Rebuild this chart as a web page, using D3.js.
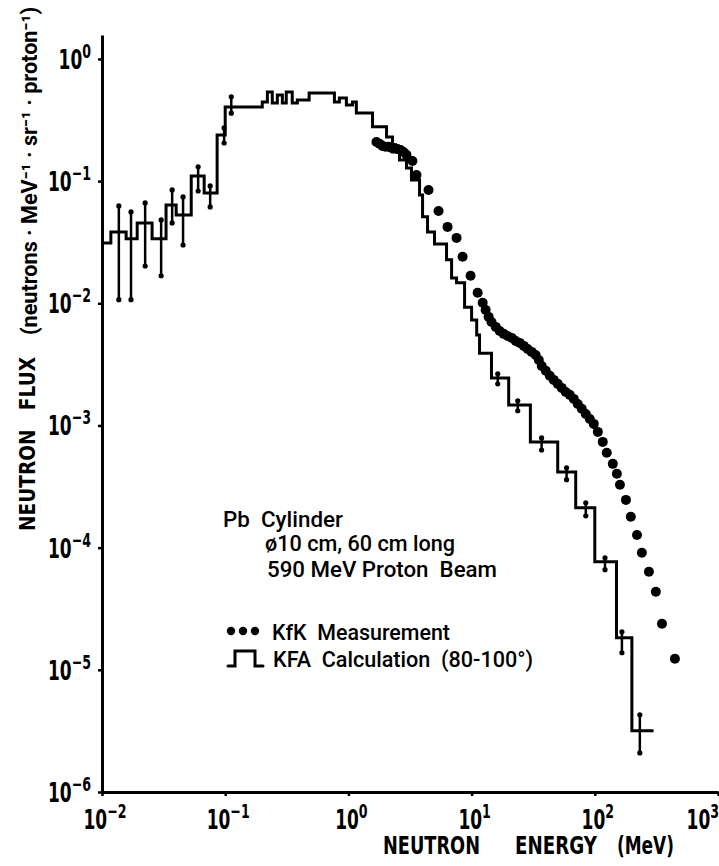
<!DOCTYPE html>
<html>
<head>
<meta charset="utf-8">
<script src="https://cdn.jsdelivr.net/npm/d3@7"></script>
<style>
	body { margin: 0; background: #fff; }
	svg { display: block; }
	.lbl { font-family: "Liberation Sans Narrow", "DejaVu Sans Condensed", "Arial Narrow", "Liberation Sans", sans-serif; font-weight: bold; fill: #000; }
	.note { font-family: Roboto, "Open Sans", "Noto Sans", sans-serif; font-weight: 500; fill: #000; }
</style>
</head>
<body>
<svg id="chart" width="719" height="866"></svg>
<script>

// KFA calculation: left edge of each bin (MeV) and flux in that bin
const calcEdges = [0.01, 0.0118, 0.0157, 0.0193, 0.0255, 0.0331, 0.040, 0.053, 0.0675, 0.086,
	0.10, 0.20, 0.22, 0.241, 0.265, 0.291, 0.313, 0.35, 0.385, 0.48,
	0.77, 0.845, 0.963, 1.08, 1.16, 1.57, 2.04, 2.28, 2.6, 2.96,
	3.25, 3.78, 4.0, 4.39, 5.0, 6.26, 6.88, 7.55, 8.77, 10.0,
	11.0, 11.6, 14.5, 20, 30, 50, 70, 100, 150, 200]
const calcLastEdge = 300
const calcFlux = [0.0312, 0.0384, 0.0337, 0.0455, 0.0337, 0.0639, 0.0529, 0.110, 0.080, 0.239,
	0.405, 0.445, 0.537, 0.436, 0.507, 0.436, 0.537, 0.436, 0.462, 0.527,
	0.445, 0.480, 0.420, 0.445, 0.361, 0.278, 0.230, 0.173, 0.149, 0.128,
	0.102, 0.077, 0.051, 0.0384, 0.0306, 0.0227, 0.0161, 0.0147, 0.0093, 0.0073,
	0.0055, 0.0039, 0.00245, 0.00147, 0.000734, 0.000417, 0.000212, 7.65e-5, 1.83e-5, 3.17e-6]

// error bars on the calculation
const errE = [0.0137, 0.0172, 0.0224, 0.0302, 0.0371, 0.0455, 0.0603, 0.0755, 0.098, 0.112,
	16.3, 23.7, 37, 59, 84.5, 121, 166, 232]
const errLo = [0.0107, 0.0107, 0.0202, 0.0168, 0.0455, 0.030, 0.083, 0.0615, 0.205, 0.36,
	0.00219, 0.00132, 0.00063, 0.00036, 0.000182, 6.6e-5, 1.38e-5, 2.09e-6]
const errHi = [0.0627, 0.056, 0.0663, 0.0481, 0.0847, 0.0742, 0.131, 0.0913, 0.2725, 0.49,
	0.00265, 0.00159, 0.00079, 0.00045, 0.000233, 8.25e-5, 2.05e-5, 4.28e-6]

// KfK measurement
const measE = [1.69, 1.79, 1.89, 2.0, 2.12, 2.24, 2.37, 2.5, 2.65, 2.8,
	2.96, 3.31, 3.57, 4.47, 5.39, 6.38, 7.55, 8.45, 9.81, 11.2,
	12.3, 13.0, 13.75, 14.5, 15.7, 16.9, 18.2, 19.6, 21.2, 22.8,
	24.6, 26.5, 28.5, 30.7, 33.1, 35.1, 37.1, 40.0, 43.1, 46.4,
	50.0, 53.9, 58.1, 62.6, 67.5, 72.7, 78.4, 84.5, 91.1, 98.1,
	105.8, 116, 125, 140, 151, 160, 179, 196, 220, 241,
	275, 313, 351, 447]
const measFlux = [0.209, 0.202, 0.194, 0.191, 0.191, 0.187, 0.187, 0.183, 0.180, 0.173,
	0.164, 0.146, 0.112, 0.0847, 0.0570, 0.0422, 0.0343, 0.0240, 0.0168, 0.0122,
	0.0101, 0.00883, 0.00774, 0.00704, 0.00641, 0.00594, 0.00562, 0.00541, 0.00521, 0.00492,
	0.00474, 0.00448, 0.00423, 0.00400, 0.00378, 0.00344, 0.00307, 0.00280, 0.00255, 0.00236,
	0.00219, 0.00203, 0.00188, 0.00178, 0.00165, 0.00150, 0.00137, 0.00124, 0.00113, 0.00103,
	0.000886, 0.000734, 0.000597, 0.000485, 0.000402, 0.000327, 0.000246, 0.000179, 0.000127, 9.07e-5,
	6.34e-5, 4.35e-5, 2.38e-5, 1.23e-5]

const xTicks = [1e-2, 1e-1, 1e0, 1e1, 1e2, 1e3]
const xExp = ["\u22122", "\u22121", "0", "1", "2", "3"]
const yTicks = [1e-6, 1e-5, 1e-4, 1e-3, 1e-2, 1e-1, 1e0]
const yExp = ["\u22126", "\u22125", "\u22124", "\u22123", "\u22122", "\u22121", "0"]

const svg = d3.select("#chart")

const x = d3.scaleLog()
	.domain([0.01, 1000])
	.range([102, 718])

const y = d3.scaleLog()
	.domain([1e-6, 1.57])
	.range([792, 35])

// axes
svg.append("g")
	.attr("transform", `translate(0,${y(1e-6)})`)
	.call(d3.axisBottom(x).tickValues(xTicks).tickSize(4).tickSizeOuter(0).tickFormat(""))
svg.append("g")
	.attr("transform", `translate(${x(0.01)},0)`)
	.call(d3.axisLeft(y).tickValues(yTicks).tickSize(4).tickSizeOuter(0).tickFormat(""))
svg.selectAll(".domain").attr("stroke-width", 3)
svg.selectAll(".tick line").attr("stroke-width", 2.5)

// "10" with a superscript exponent, squeezed to look like the narrow lettering
const powerLabel = (g, exps, anchor) => {
	g.append("text")
		.attr("class", "lbl")
		.attr("text-anchor", anchor)
		.style("font-size", "27px")
		.each(function(d, i) {
			const t = d3.select(this)
			t.append("tspan").text("10")
			t.append("tspan").attr("dy", -11).style("font-size", "20px").text(exps[i])
		})
}

svg.append("g")
	.selectAll("g")
	.data(xTicks)
	.join("g")
		.attr("transform", (d, i) => i == xTicks.length - 1
			? `translate(719,829) scale(0.7,1)`
			: `translate(${x(d) + 3},829) scale(0.7,1)`)
		.call(g => g.each(function(d, i) {
			powerLabel(d3.select(this).datum(d), [xExp[i]], i == xTicks.length - 1 ? "end" : "middle")
		}))

svg.append("g")
	.selectAll("g")
	.data(yTicks)
	.join("g")
		.attr("transform", d => `translate(91,${y(d) + 10}) scale(0.7,1)`)
		.call(g => g.each(function(d, i) {
			powerLabel(d3.select(this).datum(d), [yExp[i]], "end")
		}))

// axis titles
const xTitle = [["NEUTRON", 383, 97], ["ENERGY", 515, 82], ["(MeV)", 617, 57]]
svg.append("g")
	.selectAll("text")
	.data(xTitle)
	.join("text")
		.attr("class", "lbl")
		.attr("x", d => d[1])
		.attr("y", 854)
		.attr("textLength", d => d[2])
		.attr("lengthAdjust", "spacingAndGlyphs")
		.style("font-size", "24px")
		.text(d => d[0])

svg.append("text")
	.attr("class", "lbl")
	.attr("transform", "translate(35,531) rotate(-90)")
	.attr("textLength", 174)
	.attr("lengthAdjust", "spacingAndGlyphs")
	.style("font-size", "22px")
	.style("white-space", "pre")
	.text("NEUTRON   FLUX")

svg.append("text")
	.attr("class", "note")
	.attr("transform", "translate(37,335) rotate(-90)")
	.attr("textLength", 328)
	.attr("lengthAdjust", "spacingAndGlyphs")
	.style("font-size", "22px")
	.style("font-weight", "700")
	.text("(neutrons · MeV\u207B\u00B9 · sr\u207B\u00B9 · proton\u207B\u00B9)")

// KFA calculation histogram
const steps = calcEdges.map((e, i) => [e, calcFlux[i]])
steps.push([calcLastEdge, calcFlux[calcFlux.length - 1]])

svg.append("path")
	.datum(steps)
	.attr("fill", "none")
	.attr("stroke", "#000")
	.attr("stroke-width", 3)
	.attr("d", d3.line().x(d => x(d[0])).y(d => y(d[1])).curve(d3.curveStepAfter))

const err = svg.append("g")
	.selectAll("g")
	.data(errE.map((e, i) => ({e: e, lo: errLo[i], hi: errHi[i]})))
	.join("g")
err.append("line")
	.attr("x1", d => x(d.e)).attr("x2", d => x(d.e))
	.attr("y1", d => y(d.lo)).attr("y2", d => y(d.hi))
	.attr("stroke", "#000")
	.attr("stroke-width", 2.5)
err.selectAll("circle")
	.data(d => [[d.e, d.lo], [d.e, d.hi]])
	.join("circle")
		.attr("cx", d => x(d[0]))
		.attr("cy", d => y(d[1]))
		.attr("r", 2.6)

// KfK measurement points
svg.append("g")
	.selectAll("circle")
	.data(measE.map((e, i) => [e, measFlux[i]]))
	.join("circle")
		.attr("cx", d => x(d[0]))
		.attr("cy", d => y(d[1]))
		.attr("r", 5)
		.attr("fill", "#000")

// annotation
const notes = [
	["Pb  Cylinder", 223, 527, 120],
	["\u00F810 cm, 60 cm long", 265, 551, 190],
	["590 MeV Proton  Beam", 267, 577, 230],
	["KfK  Measurement", 272, 640, 178],
	["KFA  Calculation  (80-100\u00B0)", 273, 667, 260]
]
svg.append("g")
	.selectAll("text")
	.data(notes)
	.join("text")
		.attr("class", "note")
		.attr("x", d => d[1])
		.attr("y", d => d[2])
		.attr("textLength", d => d[3])
		.attr("lengthAdjust", "spacingAndGlyphs")
		.style("font-size", "22px")
		.style("white-space", "pre")
		.text(d => d[0])

// legend symbols
svg.append("g")
	.selectAll("circle")
	.data([231, 243, 255])
	.join("circle")
		.attr("cx", d => d)
		.attr("cy", 631)
		.attr("r", 4.2)

svg.append("path")
	.attr("fill", "none")
	.attr("stroke", "#000")
	.attr("stroke-width", 3)
	.attr("stroke-linecap", "round")
	.attr("d", "M228,666 L235,666 L235,651 L255,651 L255,666 L263,666")

</script>
</body>
</html>
